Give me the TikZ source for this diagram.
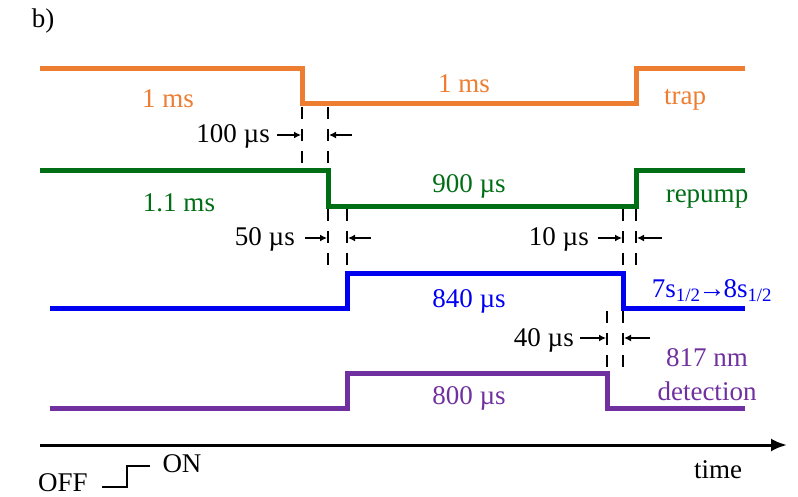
\documentclass[tikz,border=0pt]{standalone}
\usepackage{fontspec}
\setmainfont{Liberation Serif}
\usetikzlibrary{arrows.meta}
\definecolor{trapc}{RGB}{237,125,49}
\definecolor{repc}{RGB}{0,110,20}
\definecolor{bluec}{RGB}{0,0,240}
\definecolor{purc}{RGB}{112,48,160}
\begin{document}
\begin{tikzpicture}[x=1pt,y=-1pt,
  font=\fontsize{27}{31}\selectfont,
  sig/.style={line width=5pt, line join=miter},
  dsh/.style={line width=2.8pt, dash pattern=on 12pt off 10pt},
  dim/.style={line width=1.5pt, -{Latex[length=7pt,width=7pt]}},
  lbl/.style={inner sep=0pt}]
\useasboundingbox (0,0) rectangle (798,497);
\node[lbl] (b) at (43,21) {b)};
% signals
\draw[sig,trapc] (40,69) -- (302,69) -- (302,104) -- (636,104) -- (636,69) -- (745,69);
\draw[sig,repc] (40,171) -- (328,171) -- (328,207) -- (636,207) -- (636,171) -- (745,171);
\draw[sig,bluec] (50,308) -- (347,308) -- (347,273) -- (623,273) -- (623,308) -- (745,308);
\draw[sig,purc] (50,408) -- (347,408) -- (347,373) -- (607,373) -- (607,408) -- (745,408);
% time axis
\draw[line width=3pt,-{Latex[length=16pt,width=13pt]}] (40,445) -- (787,445);
% dashed markers
\draw[dsh] (302,107) -- (302,169);
\draw[dsh] (328,107) -- (328,169);
\draw[dsh] (328,209) -- (328,271);
\draw[dsh] (347,209) -- (347,271);
\draw[dsh] (623,209) -- (623,271);
\draw[dsh] (636,209) -- (636,271);
\draw[dsh] (607,311) -- (607,372);
\draw[dsh] (623,311) -- (623,372);
% dimension arrows
\draw[dim] (277,135) -- (301,135);
\draw[dim] (352,135) -- (329,135);
\draw[dim] (305,238) -- (327,238);
\draw[dim] (371,238) -- (348,238);
\draw[dim] (598,238) -- (622,238);
\draw[dim] (662,238) -- (637,238);
\draw[dim] (580,338) -- (606,338);
\draw[dim] (650,338) -- (624,338);
% labels
\node[lbl,text=trapc] (t1) at (168,99) {1 ms};
\node[lbl,text=trapc] (t2) at (464,84) {1 ms};
\node[lbl,text=trapc] (t3) at (685,100) {trap};
\node[lbl,text=repc] (r1) at (179,203) {1.1 ms};
\node[lbl,text=repc] (r2) at (469,186) {900 µs};
\node[lbl,text=repc] (r3) at (707,199) {repump};
\node[lbl,text=bluec] (u1) at (469,301) {840 µs};
\node[lbl,text=bluec] (u2) at (712,291) {7s\textsubscript{1/2}\kern-2pt→\kern-2pt8s\textsubscript{1/2}};
\node[lbl,text=purc] (p1) at (469,398) {800 µs};
\node[lbl,text=purc] (p2) at (707,358) {817 nm};
\node[lbl,text=purc] (p3) at (707,391) {detection};
\node[lbl,anchor=east] (d1) at (270,136) {100 µs};
\node[lbl,anchor=east] (d2) at (295,239) {50 µs};
\node[lbl,anchor=east] (d3) at (589,239) {10 µs};
\node[lbl,anchor=east] (d4) at (574,340) {40 µs};
\node[lbl] (tm) at (718,470) {time};
\node[lbl] (off) at (63,483) {OFF};
\node[lbl] (on) at (182,464) {ON};
\draw[line width=2.5pt] (102,487) -- (127,487) -- (127,466) -- (150,466);
\end{tikzpicture}
\end{document}
